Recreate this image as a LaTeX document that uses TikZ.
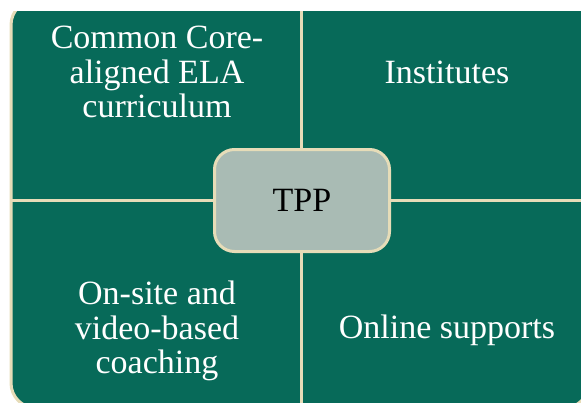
\documentclass[tikz,border=0pt]{standalone}
\usepackage{fontspec}
\setmainfont{Liberation Serif}
\definecolor{qgreen}{HTML}{076A59}
\definecolor{beige}{HTML}{E6DCB8}
\definecolor{hubfill}{HTML}{A9BBB4}
\begin{document}
\begin{tikzpicture}[x=1pt,y=-1pt,
  lbl/.style={text=white, font=\fontsize{34}{34.5}\selectfont, align=center, inner sep=0pt},
  hub/.style={draw=beige, line width=3pt, fill=hubfill, rounded corners=20pt,
    minimum width=175pt, minimum height=102pt, font=\fontsize{34}{34}\selectfont, text=black},
  divider/.style={draw=beige, line width=3pt}]
\useasboundingbox (0,0) rectangle (581,402);
\begin{scope}
  \clip (0,11) rectangle (581,402);
  \draw[fill=qgreen, draw=beige, line width=3pt, rounded corners=25pt] (11,0) rectangle (589,408);
\end{scope}
\coordinate (vt) at (301.5,11);
\coordinate (vb) at (301.5,408);
\coordinate (hl) at (11,200.5);
\coordinate (hr) at (589,200.5);
\draw[divider] (vt) -- (vb);
\draw[divider] (hl) -- (hr);
\node[hub] (tpp) at (302,200.5) {TPP};
\node[lbl] (ela) at (157,72) {Common Core-\\aligned ELA\\curriculum};
\node[lbl] (inst) at (447,72) {Institutes};
\node[lbl] (coach) at (157,331) {On-site and\\video-based\\coaching};
\node[lbl] (online) at (447,330) {Online supports};
\end{tikzpicture}
\end{document}
